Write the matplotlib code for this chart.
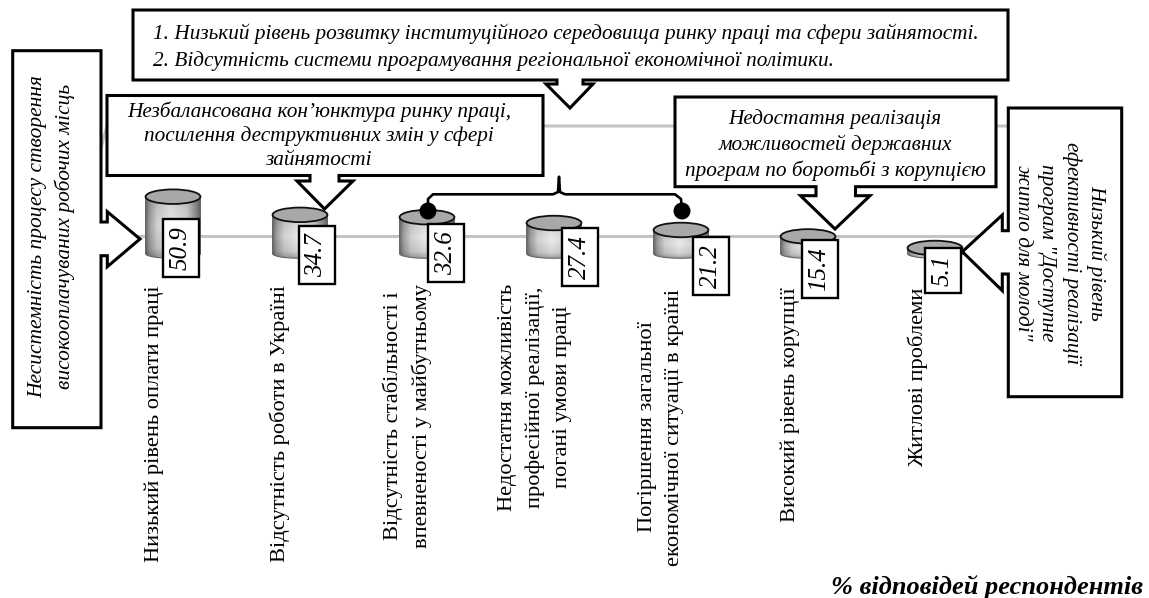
import numpy as np
import matplotlib

matplotlib.use("Agg")
import matplotlib.pyplot as plt
from matplotlib.patches import Ellipse, Polygon, Rectangle, Circle

W, H = 1149, 598

plt.rcParams['font.family'] = ['Liberation Serif', 'DejaVu Serif']

# data
categories = [
    'Низький рівень оплати праці',
    'Відсутність роботи в Україні',
    'Відсутність стабільності і\nвпевненості у майбутньому',
    'Недостатня можливість\nпрофесійної реалізації,\nпогані умови праці',
    'Погіршення загальної\nекономічної ситуації в країні',
    'Високий рівень корупції',
    'Житлові проблеми',
]
values = [50.9, 34.7, 32.6, 27.4, 21.2, 15.4, 5.1]

top_lines = ('1. Низький рівень розвитку інституційного середовища ринку праці та сфери зайнятості.\n'
             '2. Відсутність системи програмування регіональної економічної політики.')
market_text = 'Незбалансована кон’юнктура ринку праці,\nпосилення деструктивних змін у сфері\nзайнятості'
left_text = 'Несистемність процесу створення\nвисокооплачуваних робочих місць'
corruption_text = 'Недостатня реалізація\nможливостей державних\nпрограм по боротьбі з корупцією'
right_text = 'Низький рівень\nефективності реалізації\nпрограм "Доступне\nжитло для молоді"'
unit_text = '% відповідей респондентів'

# layout, in pixels of the picture
label_x = [154, 280, 407, 535, 661, 790, 918]
label_y = [424, 424, 416, 397, 427, 405, 377]
box_x = [180.5, 316.5, 446, 580, 710.5, 819.6, 942.5]
box_y = [248, 255, 253.3, 257, 266, 269, 270.3]
box_h = [58, 58, 58, 58, 58, 58, 45.5]

FS_TEXT = 15.3
FS_CAT = 16.2
LW = 2.2


def add_axes(z):
    a = fig.add_axes([0, 0, 1, 1], zorder=z)
    a.set_xlim(0, W)
    a.set_ylim(H, 0)
    a.axis('off')
    a.patch.set_alpha(0)
    return a


def callout(a, pts):
    a.add_patch(Polygon(pts, closed=True, facecolor='white', edgecolor='black', lw=LW, joinstyle='miter'))


fig = plt.figure(figsize=(W / 100, H / 100), dpi=100)
ax = add_axes(0)
ax_top = add_axes(2)

# grey wall lines behind the cylinders
ax.plot([101, 107, 1010], [148, 126, 126], color='#c4c4c4', lw=2.2)
ax.plot([130, 1060], [236, 236], color='#c4c4c4', lw=2.2)

# cylinders: one axes whose scales give x = category, y = value
px_left, px_right = 109.5, 998.5
px_top, px_bottom = 160, 280
zero_px, px_per_unit = 253.7, 1.12
ax_bars = fig.add_axes([px_left / W, 1 - px_bottom / H, (px_right - px_left) / W, (px_bottom - px_top) / H], zorder=1)
ax_bars.axis('off')
ax_bars.patch.set_alpha(0)

half_w = 0.216
top_h = 6.5
bottom_h = 4.1
# light in the middle, dark at both sides, a little darker towards the bottom
shade_x = np.interp(np.linspace(0, 1, 128), [0, 0.06, 0.2, 0.45, 0.75, 0.92, 1], [0.45, 0.62, 0.82, 0.92, 0.82, 0.55, 0.38])
shade_y = np.interp(np.linspace(0, 1, 64), [0, 0.5, 0.85, 1], [0.88, 1.0, 0.9, 0.7])[:, None]
shade = shade_y * shade_x[None, :]

for i, v in enumerate(values):
    t = np.linspace(np.pi, 2 * np.pi, 40)
    xs = i + half_w * np.cos(t)
    ys = bottom_h * np.sin(t)
    body = np.column_stack([np.r_[xs, i + half_w, i - half_w], np.r_[ys, v, v]])
    patch = Polygon(body, closed=True, facecolor='none', edgecolor='#666666', lw=0.8, zorder=2)
    ax_bars.add_patch(patch)
    im = ax_bars.imshow(shade, extent=(i - half_w, i + half_w, -bottom_h, v), cmap='gray', vmin=0, vmax=1,
                        aspect='auto', zorder=1)
    im.set_clip_path(patch)
    ax_bars.add_patch(Ellipse((i, v), 2 * half_w, 2 * top_h, facecolor='#a8a8a8', edgecolor='#111111', lw=1.3, zorder=3))
ax_bars.set_xlim(-0.5, len(values) - 0.5)
ax_bars.set_ylim((zero_px - px_bottom) / px_per_unit, (zero_px - px_top) / px_per_unit)

# callouts
callout(ax_top, [(133, 10), (1008, 10), (1008, 80), (583, 80), (583, 84), (593, 84), (570, 108), (546, 84), (557, 84),
                 (557, 80), (133, 80)])
callout(ax_top, [(107, 95.5), (543, 95.5), (543, 175.5), (339, 175.5), (339, 181), (353, 181), (324.5, 209), (297, 181),
                 (310, 181), (310, 175.5), (107, 175.5)])
callout(ax_top, [(675, 97), (996, 97), (996, 186.7), (855.5, 186.7), (855.5, 195.7), (870, 195.7), (835, 229),
                 (800.5, 195.7), (816, 195.7), (816, 186.7), (675, 186.7)])
callout(ax_top, [(12.7, 50.7), (101, 50.7), (101, 222), (107.3, 222), (107.3, 211.7), (140, 239), (107.3, 266.7),
                 (107.3, 255.7), (101, 255.7), (101, 427.7), (12.7, 427.7)])
callout(ax_top, [(1008.3, 108), (1121.7, 108), (1121.7, 396.7), (1008.3, 396.7), (1008.3, 274), (1002.3, 274),
                 (1002.3, 290.7), (962.3, 251.7), (1002.3, 215), (1002.3, 230.7), (1008.3, 230.7)])

ax_top.text(153, 47.5, top_lines, fontsize=FS_TEXT, style='italic', ha='left', va='center', linespacing=1.45)
ax_top.text(319, 135.5, market_text, fontsize=FS_TEXT, style='italic', ha='center', va='center', linespacing=1.31)
ax_top.text(835, 145, corruption_text, fontsize=FS_TEXT, style='italic', ha='center', va='center', linespacing=1.34)
ax_top.text(51.5, 236.5, left_text, fontsize=15.5, style='italic', ha='center', va='center', rotation=90,
            multialignment='center', linespacing=1.47)
ax_top.text(1060, 253, right_text, fontsize=FS_TEXT, style='italic', ha='center', va='center', rotation=270,
            multialignment='center', linespacing=1.37)

# bracket from the two markers up to the top callout
ax_top.plot([428, 428, 433, 553, 558, 559, 560, 565, 675, 681, 682],
            [211, 199, 194.3, 194.3, 192, 176.7, 192, 194.3, 194.3, 199, 211], color='black', lw=1.9)
ax_top.add_patch(Circle((428, 211), 7.8, color='black'))
ax_top.add_patch(Circle((682, 211), 7.8, color='black'))

# value boxes and category labels
for name, v, lx, ly, bx, by, bh in zip(categories, values, label_x, label_y, box_x, box_y, box_h):
    ax_top.text(lx, ly, name, fontsize=FS_CAT, rotation=90, ha='center', va='center', multialignment='center',
                linespacing=1.55)
    ax_top.add_patch(Rectangle((bx - 18, by - bh / 2), 36, bh, facecolor='white', edgecolor='black', lw=1.7))
    ax_top.text(bx, by, str(v), fontsize=18, style='italic', rotation=90, ha='center', va='center')

ax_top.text(1143, 587, unit_text, fontsize=19, style='italic', weight='bold', ha='right', va='center')

plt.savefig('out.png', dpi=100)
